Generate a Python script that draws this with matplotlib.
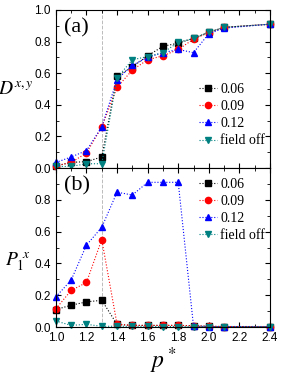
import numpy as np
import matplotlib.pyplot as plt
from matplotlib.ticker import MultipleLocator

p = [1.0, 1.1, 1.2, 1.3, 1.4, 1.5, 1.6, 1.7, 1.8, 1.9, 2.0, 2.1, 2.4]
labels = ['0.06', '0.09', '0.12', 'field off']

# panel (a): D^{x,y}
d_006 = [0.012, 0.036, 0.040, 0.070, 0.58, 0.64, 0.71, 0.77, 0.79, 0.82, 0.86, 0.89, 0.91]
d_009 = [0.015, 0.035, 0.095, 0.26, 0.51, 0.62, 0.685, 0.71, 0.75, 0.815, 0.857, 0.89, 0.91]
d_012 = [0.035, 0.07, 0.11, 0.26, 0.56, 0.65, 0.70, 0.73, 0.75, 0.73, 0.85, 0.885, 0.91]
d_off = [0.01, 0.01, 0.027, 0.027, 0.57, 0.685, 0.705, 0.73, 0.795, 0.82, 0.86, 0.89, 0.91]

# panel (b): P_1^x
p_006 = [0.11, 0.137, 0.158, 0.168, 0.017, 0.01, 0.01, 0.01, 0.01, 0.008, 0.004, 0.003, 0.002]
p_009 = [0.115, 0.23, 0.28, 0.55, 0.017, 0.01, 0.01, 0.01, 0.01, 0.008, 0.004, 0.003, 0.002]
p_012 = [0.19, 0.295, 0.515, 0.627, 0.848, 0.83, 0.91, 0.91, 0.91, 0.005, 0.003, 0.003, 0.003]
p_off = [0.038, 0.01, 0.017, 0.004, 0.005, 0.004, 0.004, 0.003, 0.003, 0.003, 0.002, 0.002, 0.002]

colors = ['black', 'red', 'blue', '#008080']
markers = ['s', 'o', '^', 'v']

plt.rcParams['font.family'] = ['Liberation Sans', 'DejaVu Sans']
plt.rcParams['mathtext.fontset'] = 'stix'
serif = 'Liberation Serif'

fig = plt.figure(figsize=(3.02, 3.79), dpi=100)
ax1 = fig.add_axes([0.185, 0.5567, 0.709, 0.417])
ax2 = fig.add_axes([0.185, 0.1372, 0.709, 0.4195])


def draw(ax, series, tag):
    ax.axvline(1.3, color='#bbbbbb', ls='--', lw=0.7, zorder=0)
    for ys, c, m, lab in zip(series, colors, markers, labels):
        ax.plot(p, ys, ls=':', color=c, lw=0.8, marker=m, ms=4.5,
                mec=c, mfc=c, label=lab, clip_on=False)
    ax.set_xlim(1.0, 2.4)
    ax.set_ylim(0.0, 1.0)
    ax.xaxis.set_major_locator(MultipleLocator(0.2))
    ax.xaxis.set_minor_locator(MultipleLocator(0.1))
    ax.yaxis.set_major_locator(MultipleLocator(0.2))
    ax.yaxis.set_minor_locator(MultipleLocator(0.1))
    ax.tick_params(which='both', direction='in', top=True, right=True,
                   labelsize=8.5)
    ax.tick_params(which='major', length=3.5)
    ax.tick_params(which='minor', length=2)
    ax.text(0.04, 0.95, tag, transform=ax.transAxes, ha='left', va='top',
            fontsize=16, family=serif)
    ax.legend(loc='upper left', bbox_to_anchor=(0.625, 0.6 if tag == '(a)' else 1.0),
              frameon=False, handlelength=1.3, handletextpad=0.2,
              labelspacing=0.3, borderaxespad=0.3,
              prop={'family': serif, 'size': 10})


draw(ax1, [d_006, d_009, d_012, d_off], '(a)')
draw(ax2, [p_006, p_009, p_012, p_off], '(b)')

ax1.tick_params(labelbottom=False)
ax2.set_yticks([0.0, 0.2, 0.4, 0.6, 0.8])
ax2.yaxis.set_minor_locator(MultipleLocator(0.1))

ax1.set_ylabel(r'$D^{x,y}$', fontsize=14, rotation=0, ha='center', va='center')
ax1.yaxis.set_label_coords(-0.185, 0.49)
ax2.set_ylabel(r'$P_1^{\ x}$', fontsize=14, rotation=0, ha='center', va='center')
ax2.yaxis.set_label_coords(-0.18, 0.41)
ax2.set_xlabel(r'$p^*$', fontsize=17, labelpad=1)

fig.savefig('out.png', dpi=100)
